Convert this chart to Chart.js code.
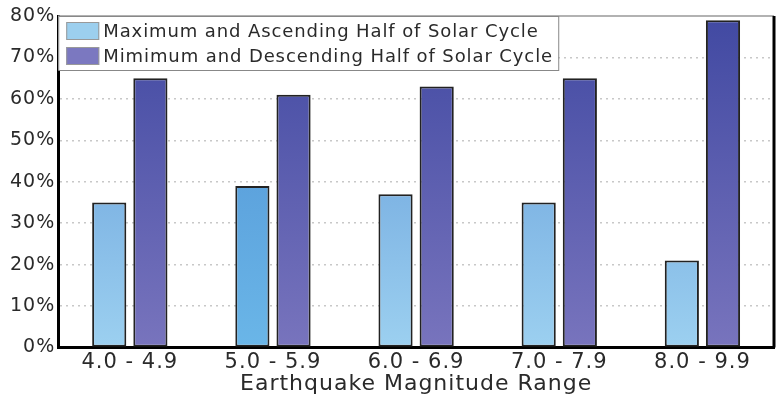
<!DOCTYPE html>
<html lang="en">
<head>
    <meta charset="UTF-8" />
    <title>Earthquakes by Solar Cycle Phase</title>
    <script src="https://cdn.jsdelivr.net/npm/chart.js"></script>
    <style>
        body {
            margin: 0;
            padding: 0;
            background: #fff;
        }

        .chart-container {
            width: 780px;
            height: 405px;
            position: relative;
        }
    </style>
</head>
<body>
    <div class="chart-container">
        <canvas id="quakeChart"></canvas>
    </div>

    <script>
        const magnitudes = ['4.0 - 4.9', '5.0 - 5.9', '6.0 - 6.9', '7.0 - 7.9', '8.0 - 9.9'];
        const maxAscending = [35, 39, 37, 35, 21];
        const minDescending = [65, 61, 63, 65, 79];
        const seriesNames = [
            'Maximum and Ascending Half of Solar Cycle',
            'Mimimum and Descending Half of Solar Cycle'
        ];

        const FONT = '"DejaVu Sans", Verdana, sans-serif';
        const TEXT = '#2a2a2a';

        // gradient stops top -> bottom; the 5.0-5.9 light bar is a bit more saturated
        function lightFill(c) {
            const area = c.chart.chartArea;
            if (!area) return '#8cc4ea';
            const g = c.chart.ctx.createLinearGradient(0, area.top, 0, area.bottom);
            if (c.dataIndex === 1) {
                g.addColorStop(0, '#4f8fd2');
                g.addColorStop(1, '#6ab6e8');
            } else {
                g.addColorStop(0, '#5d95d6');
                g.addColorStop(1, '#9cd0f0');
            }
            return g;
        }

        function darkFill(c) {
            const area = c.chart.chartArea;
            if (!area) return '#5a5cb0';
            const g = c.chart.ctx.createLinearGradient(0, area.top, 0, area.bottom);
            g.addColorStop(0, '#4149a2');
            g.addColorStop(1, '#7874bd');
            return g;
        }

        const swatchColors = ['#9ccfee', '#7b78c0'];

        // the source font is a little more open than DejaVu, so space letters out
        const spacingPlugin = {
            id: 'spacing',
            beforeLayout(chart) { chart.ctx.letterSpacing = '1px'; },
            beforeDraw(chart) { chart.ctx.letterSpacing = '1px'; }
        };

        // legend box drawn inside the plot area, plus top / right frame lines
        const framePlugin = {
            id: 'frame',
            afterDraw(chart) {
                const { ctx, chartArea: a } = chart;
                ctx.save();
                ctx.strokeStyle = '#999';
                ctx.lineWidth = 1.5;
                ctx.beginPath();
                ctx.moveTo(a.left, a.top);
                ctx.lineTo(a.right, a.top);
                ctx.stroke();
                ctx.strokeStyle = '#000';
                ctx.lineWidth = 3;
                ctx.beginPath();
                ctx.moveTo(a.right, a.top);
                ctx.lineTo(a.right, a.bottom);
                ctx.stroke();

                // legend
                const boxW = 500, boxH = 54;
                ctx.fillStyle = '#fff';
                ctx.fillRect(a.left, a.top, boxW, boxH);
                ctx.strokeStyle = '#888';
                ctx.lineWidth = 1;
                ctx.strokeRect(a.left + 0.5, a.top + 0.5, boxW, boxH);
                ctx.font = '18px ' + FONT;
                ctx.letterSpacing = '0.9px';
                ctx.textBaseline = 'middle';
                chart.data.datasets.forEach((ds, i) => {
                    const y = a.top + 6 + i * 25;
                    ctx.fillStyle = swatchColors[i];
                    ctx.fillRect(a.left + 8, y, 33, 18);
                    ctx.strokeStyle = '#999';
                    ctx.strokeRect(a.left + 8.5, y + 0.5, 32, 17);
                    ctx.fillStyle = TEXT;
                    ctx.fillText(ds.label, a.left + 45, y + 10);
                });
                ctx.restore();
            }
        };

        const ctx = document.getElementById('quakeChart').getContext('2d');

        new Chart(ctx, {
            type: 'bar',
            data: {
                labels: magnitudes,
                datasets: [
                    {
                        label: seriesNames[0],
                        data: maxAscending,
                        backgroundColor: lightFill,
                        borderColor: '#222',
                        borderWidth: 2,
                        borderSkipped: false
                    },
                    {
                        label: seriesNames[1],
                        data: minDescending,
                        backgroundColor: darkFill,
                        borderColor: '#222',
                        borderWidth: 2,
                        borderSkipped: false
                    }
                ]
            },
            options: {
                responsive: true,
                maintainAspectRatio: false,
                animation: false,
                layout: {
                    padding: { left: 7, right: 6, top: 16, bottom: 14.5 }
                },
                datasets: {
                    bar: {
                        categoryPercentage: 0.575,
                        barPercentage: 0.83
                    }
                },
                scales: {
                    x: {
                        grid: { display: false, drawTicks: false },
                        border: { color: '#000', width: 3 },
                        ticks: {
                            color: TEXT,
                            font: { family: FONT, size: 21, lineHeight: 1.0 },
                            padding: 4.5
                        },
                        title: {
                            display: true,
                            text: 'Earthquake Magnitude Range',
                            color: TEXT,
                            font: { family: FONT, size: 22, lineHeight: 0.59 },
                            padding: { top: 0, bottom: 0 }
                        }
                    },
                    y: {
                        min: 0,
                        max: 80,
                        ticks: {
                            stepSize: 10,
                            color: TEXT,
                            font: { family: FONT, size: 19 },
                            padding: 3,
                            callback: v => v + '%'
                        },
                        grid: {
                            drawTicks: false,
                            color: c => (c.tick.value === 0 || c.tick.value === 80) ? 'rgba(0,0,0,0)' : '#c8c8c8',
                            lineWidth: 1.5
                        },
                        border: { color: '#000', width: 3, dash: [2, 4] }
                    }
                },
                plugins: {
                    legend: { display: false },
                    tooltip: { enabled: false }
                }
            },
            plugins: [spacingPlugin, framePlugin]
        });
    </script>
</body>
</html>
